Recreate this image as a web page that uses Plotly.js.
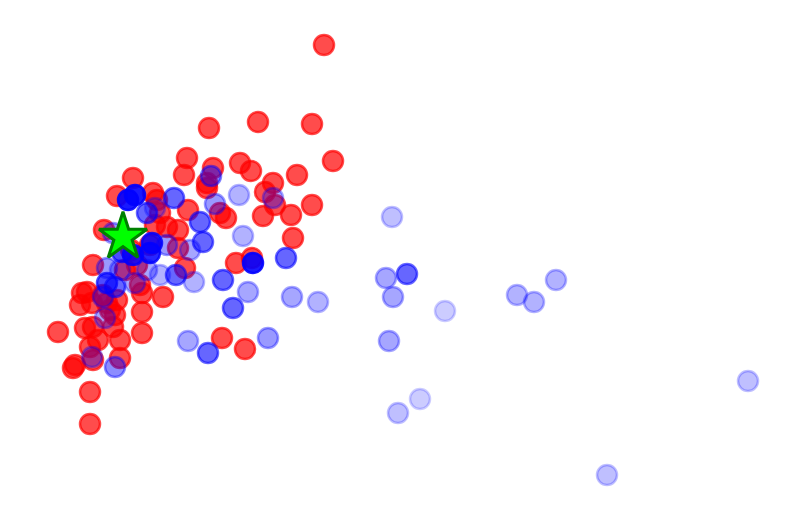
<!DOCTYPE html>
<html>
<head>
<meta charset="utf-8">
<script src="https://cdn.plot.ly/plotly-3.0.1.min.js"></script>
<style>
  html, body { margin: 0; padding: 0; background: #fff; }
  #chart { width: 808px; height: 521px; }
</style>
</head>
<body>
<div id="chart"></div>
<script>
// red group
var redX = [324, 209, 258, 312, 333, 187, 240, 251, 213, 297, 184, 133, 207, 207, 273, 265, 312, 291, 263, 275,
            293, 226, 220, 188, 178, 167, 153, 157, 117, 160, 236, 252, 163, 142, 142, 142, 222, 245, 120, 90,
            90, 73, 75, 58, 104, 93, 82, 80, 85, 93, 113, 115, 107, 117, 87, 92, 125, 137, 140, 131,
            150, 155, 178, 185, 90, 93, 110, 103, 120, 98];
var redY = [45, 128, 122, 124, 161, 158, 163, 171, 168, 175, 175, 178, 183, 188, 183, 192, 205, 215, 216, 205,
            238, 218, 213, 210, 230, 227, 193, 200, 196, 213, 263, 258, 297, 293, 312, 333, 338, 349, 358, 392,
            424, 368, 365, 332, 230, 265, 293, 305, 328, 327, 327, 315, 303, 300, 292, 303, 270, 265, 285, 250,
            245, 225, 248, 268, 347, 360, 310, 295, 340, 340];

// blue group, each point with its own opacity
var blueX = [128, 135, 147, 155, 174, 200, 203, 190, 167, 152, 150, 133, 122, 113, 107, 160, 176, 194, 107, 115,
             135, 120, 147, 253, 286, 223, 233, 208, 239, 243, 248, 292, 318, 188, 268, 211, 215, 273, 407, 392,
             386, 393, 389, 445, 517, 534, 556, 420, 398, 607, 748, 115, 92, 105, 103];
var blueY = [200, 195, 213, 208, 198, 222, 242, 250, 245, 243, 253, 255, 252, 233, 268, 275, 275, 282, 283, 287,
             283, 270, 270, 263, 258, 280, 308, 353, 195, 236, 292, 297, 302, 341, 338, 176, 204, 198, 274, 217,
             278, 297, 341, 311, 295, 302, 280, 399, 413, 475, 381, 367, 357, 318, 297];
var blueAlpha = [0.9, 0.9, 0.6, 0.3, 0.6, 0.6, 0.6, 0.35, 0.4, 0.85, 0.85, 0.85, 0.7, 0.4, 0.4, 0.3, 0.6, 0.3, 0.7, 0.6,
                 0.35, 0.35, 0.35, 0.9, 0.6, 0.6, 0.6, 0.6, 0.3, 0.3, 0.35, 0.35, 0.3, 0.35, 0.4, 0.5, 0.4, 0.35, 0.6, 0.25,
                 0.35, 0.35, 0.35, 0.2, 0.3, 0.3, 0.3, 0.2, 0.25, 0.25, 0.25, 0.45, 0.35, 0.35, 0.4];

// the star
var starX = [123];
var starY = [237];

var blueColors = blueAlpha.map(function (a) { return 'rgba(0,0,255,' + a + ')'; });

var data = [{
  x: redX, y: redY,
  mode: 'markers', type: 'scatter',
  marker: {size: 20, color: 'rgba(255,0,0,0.7)', line: {color: 'rgba(255,0,0,0.7)', width: 2.5}},
  hoverinfo: 'x+y'
}, {
  x: blueX, y: blueY,
  mode: 'markers', type: 'scatter',
  marker: {size: 20, color: blueColors, line: {color: blueColors, width: 2.5}},
  hoverinfo: 'x+y'
}, {
  x: starX, y: starY,
  mode: 'markers', type: 'scatter',
  marker: {size: 36, symbol: 'star', color: '#00ff00', line: {color: 'green', width: 3}},
  hoverinfo: 'x+y'
}];

var layout = {
  width: 808,
  height: 521,
  margin: {l: 0, r: 0, t: 0, b: 0},
  showlegend: false,
  paper_bgcolor: 'white',
  plot_bgcolor: 'white',
  xaxis: {range: [0, 808], visible: false},
  yaxis: {range: [521, 0], visible: false}
};

Plotly.newPlot('chart', data, layout, {displayModeBar: false});
</script>
</body>
</html>
